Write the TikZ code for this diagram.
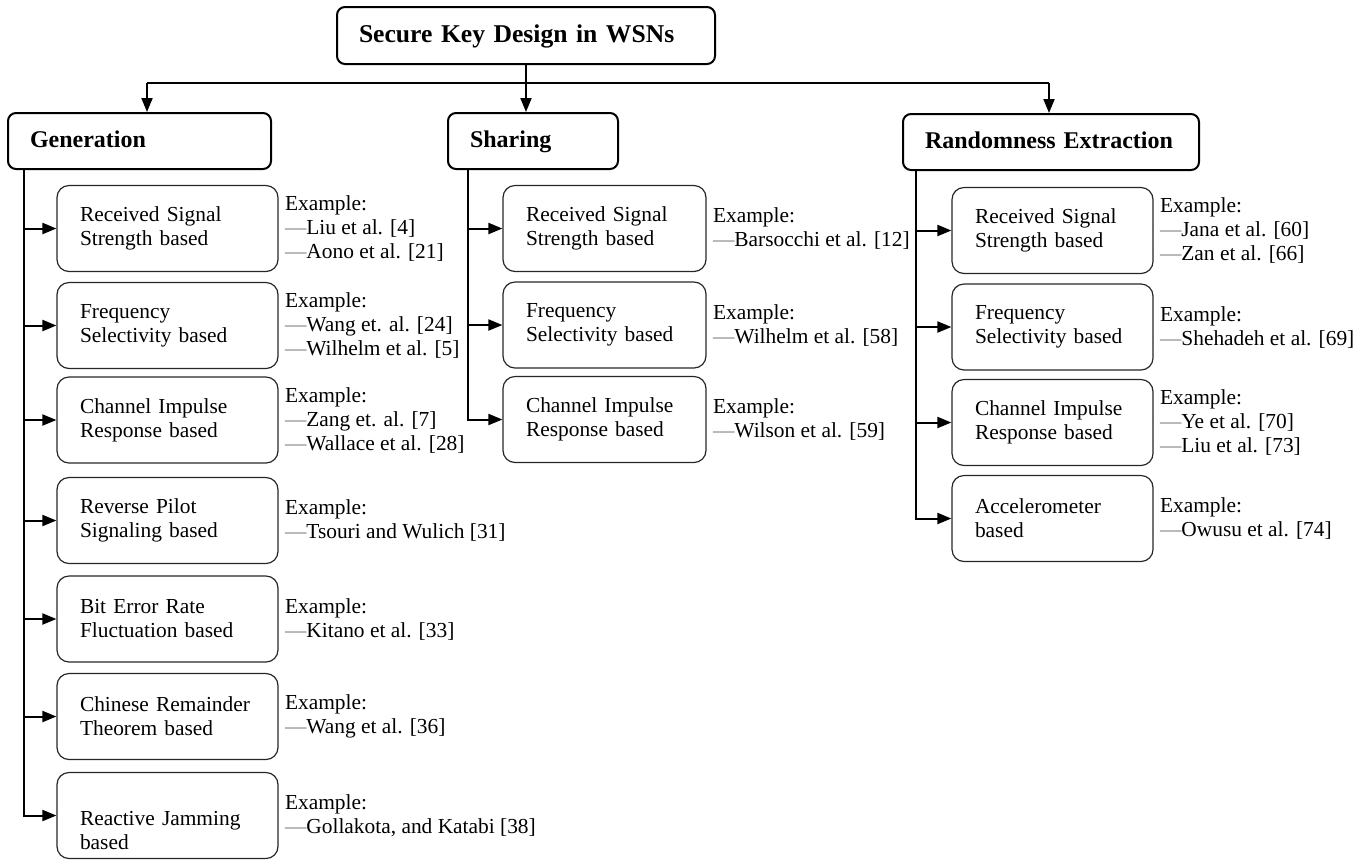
\documentclass[tikz,border=0pt]{standalone}
\usepackage{fontspec}
\setmainfont{Liberation Serif}
\usetikzlibrary{arrows.meta}
\newcommand{\refdash}{\textcolor{gray}{---}}

\begin{document}
\begin{tikzpicture}[x=0.5pt, y=-0.5pt, >={Triangle[length=7pt,width=5.5pt]}]
    \useasboundingbox (0,0) rectangle (1370,859);
    \tikzstyle{every node}=[font=\fontsize{10.7}{12}\selectfont, text=black]
    \tikzstyle{head}=[draw=black, line width=1pt, rounded corners=4pt, align=left, inner xsep=11pt, text height=8.5pt, text depth=2.5pt, minimum height=28pt, font=\fontsize{12}{14}\selectfont\bfseries]
    \tikzstyle{method}=[draw=black!85, line width=0.6pt, rounded corners=6pt, align=left, inner xsep=11.5pt, inner ysep=2pt, minimum height=43pt]
    \tikzstyle{refs}=[anchor=west, align=left, inner sep=0pt, xshift=3pt]
    \tikzstyle{edge}=[black, line width=1pt]

    % top levels
    \node[head, text width=167pt, minimum height=28.5pt, text height=9.5pt, text depth=3pt, font=\fontsize{12.8}{15}\selectfont\bfseries] (key) at (526,35.5) {Secure Key Design in WSNs};
    \node[head, text width=109.5pt] (gen) at (139.5,141) {Generation};
    \node[head, text width=63pt] (sha) at (533,141) {Sharing};
    \node[head, text width=126pt] (rnd) at (1051,142) {Randomness Extraction};

    \coordinate (gl) at (147,83);
    \coordinate (rl) at (1049,83);
    \draw[edge,->] (key.south) -- (key.south |- sha.north);
    \draw[edge] (gl) -- (rl);
    \draw[edge,->] (gl) -- (gl |- gen.north);
    \draw[edge,->] (rl) -- (rl |- rnd.north);

    % generation
    \node[method, text width=87.5pt] (g1) at (167.5,228.5) {Received Signal\\Strength based};
    \node[method, text width=87.5pt] (g2) at (167.5,325.5) {Frequency\\Selectivity based};
    \node[method, text width=87.5pt] (g3) at (167.5,420) {Channel Impulse\\Response based};
    \node[method, text width=87.5pt] (g4) at (167.5,520.5) {Reverse Pilot\\Signaling based};
    \node[method, text width=87.5pt] (g5) at (167.5,619) {Bit Error Rate\\Fluctuation based};
    \node[method, text width=87.5pt] (g6) at (167.5,716.5) {Chinese Remainder\\Theorem based};
    \node[method, text width=87.5pt] (g7) at (167.5,815.5) {\rule{0pt}{22pt}Reactive Jamming\\based};

    \node[refs] (ge1) at (g1.east) {Example:\\\refdash Liu et al. [4]\\\refdash Aono et al. [21]};
    \node[refs] (ge2) at (g2.east) {Example:\\\refdash Wang et. al. [24]\\\refdash Wilhelm et al. [5]};
    \node[refs] (ge3) at (g3.east) {Example:\\\refdash Zang et. al. [7]\\\refdash Wallace et al. [28]};
    \node[refs] (ge4) at (g4.east) {Example:\\\refdash Tsouri and Wulich [31]};
    \node[refs] (ge5) at (g5.east) {Example:\\\refdash Kitano et al. [33]};
    \node[refs] (ge6) at (g6.east) {Example:\\\refdash Wang et al. [36]};
    \node[refs] (ge7) at (g7.east) {Example:\\\refdash Gollakota, and Katabi [38]};

    \coordinate (gt) at (24,0);
    \draw[edge,->] (gen.south -| gt) |- (g7.west);
    \draw[edge,->] (gt |- g1.west) -- (g1.west);
    \draw[edge,->] (gt |- g2.west) -- (g2.west);
    \draw[edge,->] (gt |- g3.west) -- (g3.west);
    \draw[edge,->] (gt |- g4.west) -- (g4.west);
    \draw[edge,->] (gt |- g5.west) -- (g5.west);
    \draw[edge,->] (gt |- g6.west) -- (g6.west);

    % sharing
    \node[method, text width=78.5pt] (s1) at (604.5,228.5) {Received Signal\\Strength based};
    \node[method, text width=78.5pt] (s2) at (604.5,325) {Frequency\\Selectivity based};
    \node[method, text width=78.5pt] (s3) at (604.5,419.5) {Channel Impulse\\Response based};

    \node[refs] (se1) at (s1.east) {Example:\\\refdash Barsocchi et al. [12]};
    \node[refs] (se2) at (s2.east) {Example:\\\refdash Wilhelm et al. [58]};
    \node[refs] (se3) at (s3.east) {Example:\\\refdash Wilson et al. [59]};

    \coordinate (st) at (468,0);
    \draw[edge,->] (sha.south -| st) |- (s3.west);
    \draw[edge,->] (st |- s1.west) -- (s1.west);
    \draw[edge,->] (st |- s2.west) -- (s2.west);

    % randomness extraction
    \node[method, text width=77.5pt] (r1) at (1052.5,230.5) {Received Signal\\Strength based};
    \node[method, text width=77.5pt] (r2) at (1052.5,327) {Frequency\\Selectivity based};
    \node[method, text width=77.5pt] (r3) at (1052.5,422.5) {Channel Impulse\\Response based};
    \node[method, text width=77.5pt] (r4) at (1052.5,518.5) {Accelerometer\\based};

    \node[refs] (re1) at (r1.east) {Example:\\\refdash Jana et al. [60]\\\refdash Zan et al. [66]};
    \node[refs] (re2) at (r2.east) {Example:\\\refdash Shehadeh et al. [69]};
    \node[refs] (re3) at (r3.east) {Example:\\\refdash Ye et al. [70]\\\refdash Liu et al. [73]};
    \node[refs] (re4) at (r4.east) {Example:\\\refdash Owusu et al. [74]};

    \coordinate (rt) at (916,0);
    \draw[edge,->] (rnd.south -| rt) |- (r4.west);
    \draw[edge,->] (rt |- r1.west) -- (r1.west);
    \draw[edge,->] (rt |- r2.west) -- (r2.west);
    \draw[edge,->] (rt |- r3.west) -- (r3.west);
\end{tikzpicture}
\end{document}
